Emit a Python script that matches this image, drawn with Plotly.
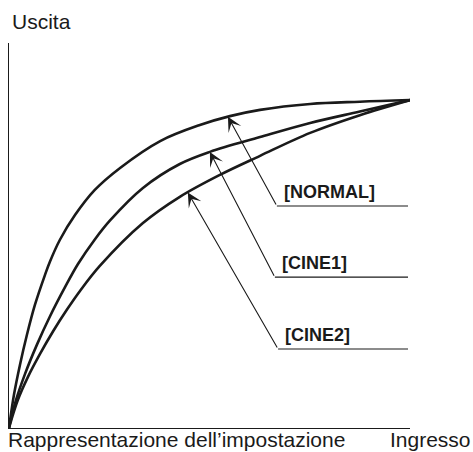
import numpy as np
import plotly.graph_objects as go

# Tone curves: input level (%) -> output level (%)
curve_names = ["NORMAL", "CINE1", "CINE2"]

normal_in = [0, 1.25, 2.74, 4.49, 6.48, 8.98, 10.2, 12.7, 16.5, 21.4, 27.7, 37.7, 47.6, 55.1, 62.6, 75.1, 87.5, 100]
normal_out = [0, 10.2, 19.3, 28.5, 37.6, 46.7, 50.7, 57.4, 65.0, 72.6, 79.3, 87.5, 92.4, 95.1, 97.0, 98.8, 99.5, 100]

cine1_in = [0, 1.5, 4.0, 7.0, 10.2, 14.0, 17.2, 21.4, 25.2, 33.4, 42.6, 50.1, 62.6, 75.1, 87.5, 100]
cine1_out = [0, 7.5, 16.5, 25.5, 34.0, 43.0, 50.0, 57.5, 63.3, 73.2, 80.5, 84.2, 88.7, 93.0, 96.5, 100]

cine2_in = [0, 2.2, 4.7, 7.7, 11.0, 14.5, 17.7, 22.7, 33.4, 42.6, 52.6, 62.6, 75.1, 87.5, 100]
cine2_out = [0, 8.5, 15.5, 22.5, 29.5, 36.2, 41.8, 49.5, 62.5, 70.5, 77.2, 83.0, 90.0, 95.4, 100]

# Where each callout arrow touches its curve (input %)
arrow_inputs = [54.6, 50.1, 44.6]

series = [
    (normal_in, normal_out),
    (cine1_in, cine1_out),
    (cine2_in, cine2_out),
]

FONT = "Liberation Sans, Arial, Helvetica, sans-serif"
INK = "#1a1a1a"

fig = go.Figure()

for name, (xs, ys) in zip(curve_names, series):
    fig.add_trace(go.Scatter(
        x=xs, y=ys, mode="lines", name=name,
        line=dict(color=INK, width=2.6, shape="spline", smoothing=1.0),
        hoverinfo="x+y+name", showlegend=False,
    ))

# Callouts: arrow from the label's leader line up to the curve, then underline
callout_tail = [(66.8, 67.7), (66.3, 46.0), (67.1, 24.1)]
underline_end = 99.5
label_y_offset = 4.3

for name, (xs, ys), x_tip, (tx, ty) in zip(curve_names, series, arrow_inputs, callout_tail):
    y_tip = float(np.interp(x_tip, xs, ys))
    fig.add_annotation(
        x=x_tip, y=y_tip, xref="x", yref="y",
        ax=tx, ay=ty, axref="x", ayref="y",
        text="", showarrow=True,
        arrowhead=3, arrowsize=2.2, arrowwidth=1.1, arrowcolor=INK,
        standoff=0, startstandoff=0,
    )
    fig.add_shape(
        type="line", xref="x", yref="y",
        x0=tx, y0=ty, x1=underline_end, y1=ty,
        line=dict(color=INK, width=1.1),
    )
    fig.add_annotation(
        x=tx + 1.2, y=ty + label_y_offset, xref="x", yref="y",
        text=f"<b>[{name}]</b>", showarrow=False,
        xanchor="left", yanchor="middle",
        font=dict(family=FONT, size=18, color=INK),
    )

# Axis captions (paper coordinates, outside the plotting area)
caption_font = dict(family=FONT, size=21, color=INK)
fig.add_annotation(
    x=0.002, y=1.056, xref="paper", yref="paper", text="Uscita", showarrow=False,
    xanchor="left", yanchor="middle", font=caption_font,
)
fig.add_annotation(
    x=-0.008, y=-0.030, xref="paper", yref="paper",
    text="Rappresentazione dell’impostazione", showarrow=False,
    xanchor="left", yanchor="middle", font=caption_font,
)
fig.add_annotation(
    x=1.157, y=-0.030, xref="paper", yref="paper", text="Ingresso", showarrow=False,
    xanchor="right", yanchor="middle", font=caption_font,
)

fig.update_layout(
    width=473, height=452,
    margin=dict(l=9, r=63, t=43, b=24, pad=0),
    paper_bgcolor="white", plot_bgcolor="white",
    xaxis=dict(range=[0, 100], showgrid=False, zeroline=False, showticklabels=False,
               ticks="", showline=True, linecolor=INK, linewidth=1.3, fixedrange=True),
    yaxis=dict(range=[0, 117.4], showgrid=False, zeroline=False, showticklabels=False,
               ticks="", showline=True, linecolor=INK, linewidth=1.3, fixedrange=True),
)

fig.write_html("out.html")
